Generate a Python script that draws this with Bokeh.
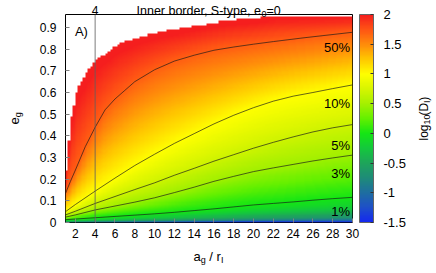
import numpy as np
from bokeh.plotting import figure
from bokeh.layouts import column
from bokeh.models import (LinearColorMapper, ColorBar, FixedTicker, LinearAxis, Label,
                          Span, CustomJSTickFormatter, Range1d)
from bokeh.embed import file_html
from bokeh.resources import INLINE

# ---------------- data ----------------
contour_x = [1, 2, 4, 6, 8, 10, 12, 14, 16, 18, 20, 22, 24, 26, 28, 30]
c1_e = [0.013, 0.016, 0.022, 0.028, 0.034, 0.040, 0.047, 0.055, 0.063, 0.072, 0.081, 0.088, 0.095, 0.103, 0.110, 0.116]
c3_e = [0.025, 0.035, 0.058, 0.076, 0.094, 0.114, 0.138, 0.163, 0.190, 0.213, 0.235, 0.252, 0.268, 0.284, 0.298, 0.311]
c5_e = [0.035, 0.052, 0.088, 0.120, 0.152, 0.183, 0.218, 0.250, 0.283, 0.313, 0.343, 0.370, 0.395, 0.418, 0.437, 0.452]
c10_e = [0.050, 0.083, 0.145, 0.205, 0.263, 0.315, 0.365, 0.410, 0.455, 0.495, 0.530, 0.560, 0.583, 0.600, 0.618, 0.635]
c50_x = [1.0, 1.5, 2.0, 3.0, 4.0, 5.0, 6.0, 7.0, 8.0, 10.0, 12.0, 14.0, 16.0, 18.0, 20.0, 22.0, 25.0, 30.0]
c50_e = [0.134, 0.190, 0.242, 0.350, 0.440, 0.520, 0.570, 0.610, 0.650, 0.705, 0.745, 0.772, 0.795, 0.810, 0.823, 0.835, 0.852, 0.878]
top_x = [1.0, 1.1, 1.3, 1.5, 1.65, 1.85, 2.0, 2.2, 2.5, 3.17, 4.0, 5.2, 6.5, 8.3, 10.3, 12.6, 15.0, 17.4, 20.0, 22.5, 30.0]
top_e = [0.14, 0.22, 0.35, 0.43, 0.50, 0.53, 0.58, 0.61, 0.642, 0.693, 0.748, 0.785, 0.826, 0.854, 0.877, 0.895, 0.914, 0.932, 0.940, 0.955, 0.955]
top_level = 2.05

level_pct = [1, 3, 5, 10, 50]
level_label_e = [0.050, 0.227, 0.357, 0.549, 0.809]

x_ticks = [2, 4, 6, 8, 10, 12, 14, 16, 18, 20, 22, 24, 26, 28, 30]
y_ticks = [0, 0.1, 0.2, 0.3, 0.4, 0.5, 0.6, 0.7, 0.8, 0.9]
top_ticks = [4]
cb_ticks = [-1.5, -1, -0.5, 0, 0.5, 1, 1.5, 2]

cb_vals = [-1.5, -1.25, -1.0, -0.75, -0.5, -0.25, 0.0, 0.25, 0.5, 0.75, 1.0, 1.25, 1.5, 1.75, 2.0]
cb_cols = ["#1428f0", "#1e50c8", "#1e6ea0", "#1e8c78", "#1ea55a", "#14c83c", "#14e614", "#64f000",
           "#a5f000", "#d7f500", "#ffff00", "#ffc800", "#ff8c0a", "#ff5514", "#f51e1e"]

# ---------------- palette ----------------
rgb = np.array([[int(c[i:i + 2], 16) for i in (1, 3, 5)] for c in cb_cols], dtype=float)
palette = []
for v in np.linspace(-1.5, 2.0, 256):
    r, g, b = (np.interp(v, cb_vals, rgb[:, k]) for k in range(3))
    palette.append("#%02x%02x%02x" % (int(round(r)), int(round(g)), int(round(b))))
mapper = LinearColorMapper(palette=palette, low=-1.5, high=2.0, nan_color="#00000000")

# ---------------- field from the read contours ----------------
XMIN, XMAX, YMAX = 1.0, 30.0, 0.96
cw, ch = 0.25, 0.01
fx, fy = cw / 2, ch / 2
nx = int(round((XMAX - XMIN) / fx))
ny = int(round(YMAX / fy))
xs = XMIN + (np.arange(nx) + 0.5) * fx
es = (np.arange(ny) + 0.5) * fy
lv = [0.0, np.log10(3), np.log10(5), 1.0, np.log10(50), top_level]
field = np.full((ny, nx), np.nan)
for j, x in enumerate(xs):
    col = int((x - XMIN) // cw)
    xc = XMIN + (col + 0.5) * cw
    etop = np.interp(xc, top_x, top_e)
    e50 = np.interp(x, c50_x, c50_e)
    E = [np.interp(x, contour_x, c1_e), np.interp(x, contour_x, c3_e), np.interp(x, contour_x, c5_e),
         np.interp(x, contour_x, c10_e), e50, max(np.interp(x, top_x, top_e), e50 + 0.01)]
    for i, e in enumerate(es):
        row = int(e // ch)
        if (row + 0.5) * ch > etop:
            continue
        if e < E[0]:
            field[i, j] = max(np.log10(e / E[0]), -1.6)
        else:
            field[i, j] = np.interp(e, E, lv)

# ---------------- main figure ----------------
FONT = "Liberation Sans"
W, H = 436, 273
FL, FR, FT, FB = 65, 352, 14, 222      # frame edges in canvas pixels
p = figure(width=W, height=H, x_range=Range1d(XMIN, XMAX), y_range=Range1d(0, YMAX),
           output_backend="svg", toolbar_location=None,
           min_border_left=FL, min_border_right=W - FR, min_border_top=FT, min_border_bottom=H - FB)
p.xgrid.visible = False
p.ygrid.visible = False
p.background_fill_color = "white"
p.border_fill_color = "white"
p.outline_line_color = "black"
p.outline_line_width = 1

p.image(image=[field], x=XMIN, y=0, dw=XMAX - XMIN, dh=YMAX, color_mapper=mapper)

fmt = CustomJSTickFormatter(code="return String(+tick.toFixed(2));")
for ax, tk in ((p.xaxis[0], x_ticks), (p.yaxis[0], y_ticks)):
    ax.ticker = FixedTicker(ticks=tk)
    ax.formatter = fmt
    ax.axis_line_color = None
    ax.major_tick_in = 4
    ax.major_tick_out = 0
    ax.minor_tick_line_color = None
    ax.major_tick_line_color = "#808080"
    ax.major_label_text_font = FONT
    ax.major_label_text_font_size = "12px"
    ax.major_label_text_color = "black"
p.xaxis.major_label_standoff = 6
p.yaxis.major_label_standoff = 9

top_axis = LinearAxis(ticker=FixedTicker(ticks=top_ticks), axis_line_color=None,
                      major_tick_in=0, major_tick_out=0, minor_tick_line_color=None,
                      major_label_text_font=FONT, major_label_text_font_size="12px",
                      major_label_text_color="black", major_label_standoff=0)
p.add_layout(top_axis, "above")

line_style = dict(line_color="#1a1a1a", line_alpha=0.75, line_width=0.9)
for ce in (c1_e, c3_e, c5_e, c10_e):
    p.line(contour_x, ce, **line_style)
p.line(c50_x, c50_e, **line_style)

p.add_layout(Span(location=4, dimension="height", line_color="#606060", line_alpha=0.55, line_width=1.5))

for pct, ey in zip(level_pct, level_label_e):
    p.add_layout(Label(x=29.75, y=ey, text=f"{pct}%", text_align="right", text_baseline="alphabetic",
                       text_font=FONT, text_font_size="13px", text_color="black"))
p.add_layout(Label(x=1.95, y=0.882, text="A)", text_baseline="alphabetic",
                   text_font=FONT, text_font_size="13px", text_color="black"))

# ---------------- overlay for texts outside the frame and the colour bar ----------------
ov = figure(width=W, height=H, x_range=Range1d(0, W), y_range=Range1d(0, H),
            output_backend="svg", toolbar_location=None, x_axis_type=None, y_axis_type=None,
            min_border=0, margin=(-H, 0, 0, 0))
ov.background_fill_alpha = 0
ov.border_fill_alpha = 0
ov.outline_line_color = None
for fig in (p, ov):
    if "frame_align" in fig.properties():
        fig.frame_align = False


def pieces(x, y, parts, angle=0.0, size=13):
    for txt, off, sub in parts:
        if angle == 0:
            xo, yo = off, (-3 if sub else 0)
        else:
            xo, yo = (3 if sub else 0), off
        ov.add_layout(Label(x=x, y=H - y, text=txt, x_offset=xo, y_offset=yo,
                            angle=angle, text_align="left", text_baseline="alphabetic", text_font=FONT,
                            text_font_size=f"{9 if sub else size}px", text_color="black"))


pieces(136, 10, [("Inner border, S-type, e", 0, False), ("0", 125.0, True), ("=0", 130.0, False)], size=12.5)
pieces(193, 256, [("a", 0, False), ("g", 7.2, True), ("/ r", 15.8, False), ("I", 27.6, True)])
pieces(14, 124, [("e", 0, False), ("g", 7.2, True)], angle=np.pi / 2)
pieces(423, 140, [("log", 0, False), ("10", 16.0, True), ("(D", 24.9, False), ("I", 37.6, True), (")", 39.8, False)],
       angle=np.pi / 2, size=12)

cb = ColorBar(color_mapper=mapper, ticker=FixedTicker(ticks=cb_ticks), formatter=fmt,
              location=(359, H - FB), width=14, height=FB - FT, padding=0, margin=0, label_standoff=10,
              major_tick_in=3, major_tick_out=0, major_tick_line_color="#333333",
              minor_tick_line_color=None, bar_line_color="#666666",
              border_line_color=None, background_fill_alpha=0,
              major_label_text_font=FONT, major_label_text_font_size="13px",
              major_label_text_color="black")
ov.add_layout(cb)

layout = column(p, ov)
open("out.html", "w").write(file_html(layout, INLINE))
